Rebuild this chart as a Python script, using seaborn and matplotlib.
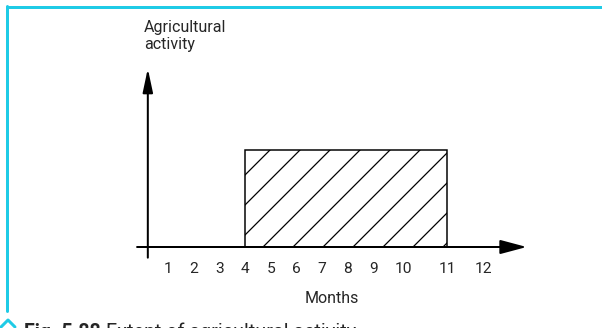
#Librerías
import numpy as np
import pandas as pd
import seaborn as sns
import matplotlib.pyplot as plt
from matplotlib.lines import Line2D

#Datos del gráfico
months = ['1', '2', '3', '4', '5', '6', '7', '8', '9', '10', '11', '12']
month_pos = [1, 2, 3, 4, 5, 6, 7, 8, 9, 10.2, 11.9, 13.3]
season_start = '4'
season_end = '11'
activity_level = 1.0

y_label = "Agricultural\nactivity"
x_label = "Months"
caption_bold = "Fig. 5.88"
caption_text = "Extent of agricultural activity"

sns.set_style("white")
plt.rcParams['font.family'] = ['Liberation Sans Narrow', 'Roboto', 'DejaVu Sans']
plt.rcParams['font.stretch'] = 'condensed'
plt.rcParams['hatch.linewidth'] = 0.5

DPI = 180
W, H = 602, 328
fig = plt.figure(figsize=(W / DPI, H / DPI), dpi=DPI)
ax = fig.add_axes([0, 0, 1, 1])

#escala: 25.6 px por mes, 97 px por unidad de actividad
px_x, x0 = 25.6, 142.7
px_y, y0 = 97.0, 247.0
ax.set_xlim(-x0 / px_x, (W - x0) / px_x)
ax.set_ylim((y0 - H) / px_y, y0 / px_y)
ax.axis('off')

pos = dict(zip(months, month_pos))
df = pd.DataFrame({'start': [pos[season_start]],
                   'width': [pos[season_end] - pos[season_start]],
                   'activity': [activity_level]})

#rectángulo rayado
ax.bar(df['start'], df['activity'], width=df['width'], align='edge',
       fill=False, hatch='//', edgecolor='black', linewidth=0.6, zorder=2)

#ejes con flechas
ax.annotate('', xy=(15.0, 0), xytext=(-0.22, 0),
            arrowprops=dict(arrowstyle='-|>,head_length=9,head_width=2.4',
                            mutation_scale=1, lw=0.8, color='black',
                            shrinkA=0, shrinkB=0), zorder=3)
ax.annotate('', xy=(0.2, 1.84), xytext=(0.2, -0.11),
            arrowprops=dict(arrowstyle='-|>,head_length=8,head_width=1.7',
                            mutation_scale=1, lw=0.8, color='black',
                            shrinkA=0, shrinkB=0), zorder=3)

#etiquetas de los meses
for m, xp in zip(months, month_pos):
    ax.text(xp, -0.23, m, ha='center', va='center', fontsize=6.2)

ax.text(7.4, -0.53, x_label, ha='center', va='center', fontsize=6.4)
ax.text(0.05, 2.04, y_label, ha='left', va='baseline', fontsize=6.4,
        linespacing=1.2)

#marco cian y pie de figura
cyan = '#1fcbe6'
fig.add_artist(Line2D([7 / W, 1], [1 - 7 / H, 1 - 7 / H], color=cyan, lw=1.2))
fig.add_artist(Line2D([7 / W, 7 / W], [1 - 6 / H, 1 - 311 / H], color=cyan, lw=1.2))
fig.add_artist(Line2D([1 / W, 8 / W, 15 / W], [1 - 327 / H, 1 - 320 / H, 1 - 327 / H],
                      color=cyan, lw=1.2))
t = fig.text(24 / W, -10 / H, caption_bold, fontsize=7.8, fontweight='bold', va='baseline')
fig.canvas.draw()
bb = t.get_window_extent()
fig.text(bb.x1 / W + 5 / W, -10 / H, caption_text, fontsize=7.9, va='baseline')

plt.savefig('out.png', dpi=DPI)
